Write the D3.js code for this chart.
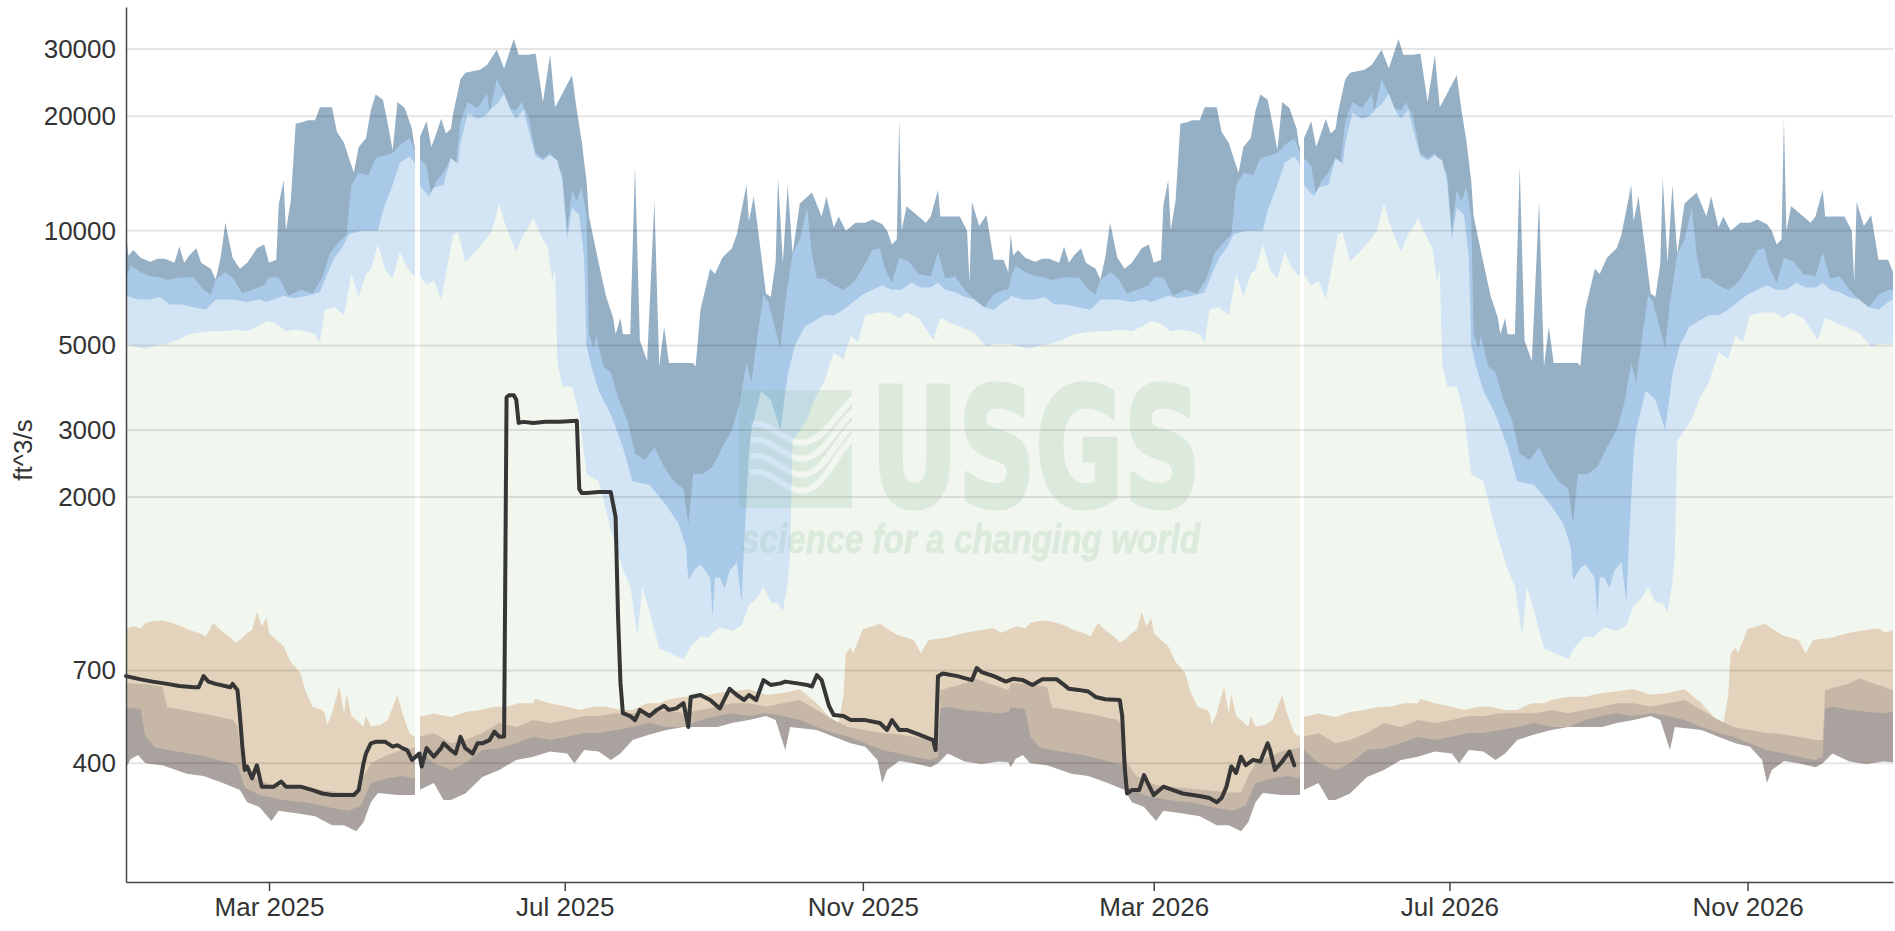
<!DOCTYPE html>
<meta charset="utf-8">
<script src="https://d3js.org/d3.v7.min.js"></script>
<style>
    body { margin: 0; background: #fff; }
    text { font-family: "Liberation Sans", Arial, sans-serif; }
</style>
<div id="vis"></div>
<script>
    // daily flow statistics by day of year, [day (0 = Jan 1), ft^3/s]
    var pMax = [[0,9800],[1,8600],[3,8900],[6,8500],[10,8300],[13,8450],[16,8450],[20,8250],[22,9100],[24,8250],[26,8600],[29,9000],[31,8250],[35,7950],[37,7450],[39,8500],[41,10500],[44,8500],[47,7950],[50,8250],[52,8600],[54,9000],[57,9200],[59,8250],[62,8400],[63,11700],[65,13600],[66,10000],[68,12000],[70,19100],[73,19300],[75,19500],[78,19500],[80,21100],[85,21100],[87,18200],[90,17000],[92,15500],[94,14200],[96,16600],[99,17500],[101,20700],[103,22800],[106,22100],[108,19100],[110,16300],[112,21800],[115,21000],[118,18500],[119,16600],
        [121,17500],[124,19400],[126,16600],[128,18000],[130,19700],[132,18000],[134,18500],[135,20400],[138,25000],[140,26000],[146,26500],[149,27300],[153,29900],[156,26700],[160,31900],[162,29000],[166,29000],[169,29200],[172,21800],[175,29000],[177,21100],[180,22900],[184,25600],[186,20700],[188,17200],[190,13500],[191,10900],[195,8250],[198,6750],[201,5900],[202,5350],[204,5900],[205,5350],[208,5350],[210,14800],[212,5150],[215,4550],[218,12000],[220,4400],[222,5600],[224,4500],[234,4500],[235,4400],[237,6200],[241,7950],[243,7700],[246,8500],[250,9000],[252,9800],[256,13200],[257,10600],[259,12300],[262,8700],[264,6850],[266,6700],[268,8250],[269,13800],[271,8250],[273,13200],[275,8700],[278,11800],[283,12600],[287,10900],[289,12300],[292,10200],[294,10900],[297,10000],[301,10500],[305,10500],[308,10700],[312,10400],[314,10000],[316,9200],[318,9500],[319,19700],[320,10000],[322,11600],[327,10900],[330,10500],[332,10900],[335,12800],[336,10900],[340,10900],[344,10900],[347,10000],[348,7300],[349,11900],[352,10300],[355,11000],[358,8400],[362,8400],[364,7800]];
    var p95 = [[0,7540],[2,8100],[6,7800],[10,7600],[14,7540],[17,7430],[22,7540],[25,7540],[28,7540],[32,7000],[35,6800],[37,7430],[41,7800],[44,7540],[48,6850],[52,7000],[57,7200],[59,7540],[63,7540],[67,6750],[72,7000],[77,6850],[81,7540],[84,8700],[87,9200],[91,9800],[93,13200],[96,14200],[100,14000],[103,15500],[107,15800],[110,16000],[113,16800],[117,17500],[119,16300],
        [121,15500],[124,14800],[126,12300],[128,13500],[131,14200],[134,15500],[136,14800],[138,19400],[141,21800],[145,21000],[149,22900],[150,20500],[153,25000],[156,22900],[158,21000],[161,20700],[163,21800],[166,20000],[169,16000],[172,15500],[175,16000],[178,14800],[180,14200],[182,10000],[184,12800],[186,12000],[188,13000],[190,10900],[191,5350],[193,4900],[194,5300],[197,4400],[200,4250],[203,3650],[207,3150],[210,2600],[214,2500],[218,2700],[222,2400],[226,2200],[230,2100],[232,1700],[234,2300],[238,2300],[242,2400],[246,2700],[250,3000],[253,3500],[256,4500],[258,4000],[260,5000],[263,6800],[265,6500],[268,5500],[270,4900],[272,6500],[275,8700],[278,9500],[281,11500],[283,8700],[285,7500],[288,7500],[292,7200],[296,7000],[300,7300],[304,8000],[308,8900],[311,9000],[313,8000],[316,7300],[319,8500],[323,8300],[327,7700],[332,7600],[335,8800],[338,7500],[342,7600],[346,7000],[350,6600],[354,6300],[358,6800],[362,7000],[364,7000]];
    var p90 = [[0,6750],[5,6600],[10,6600],[14,6700],[18,6400],[23,6400],[28,6300],[33,6200],[37,6600],[44,6600],[50,6500],[55,6600],[58,6500],[65,6750],[69,6650],[75,6750],[80,6900],[83,7700],[86,8500],[89,9000],[92,9800],[97,10000],[101,10000],[104,10000],[106,11300],[110,13200],[113,15100],[117,15700],[119,15100],
        [121,13200],[125,12300],[127,13000],[131,13200],[134,15500],[137,15000],[138,17000],[141,20400],[145,19700],[148,20000],[151,21000],[153,21500],[156,22900],[159,20500],[161,19700],[164,20800],[167,17500],[169,15700],[172,15300],[175,15800],[178,15300],[180,13500],[182,9500],[184,11500],[187,11000],[189,8500],[190,5000],[192,4400],[195,3800],[200,3300],[205,2700],[209,2200],[216,2150],[223,1900],[228,1700],[231,1480],[232,1210],[235,1300],[237,1330],[241,1230],[242,970],[243,1230],[245,1230],[247,1150],[249,1280],[252,1350],[254,1060],[255,1500],[257,2600],[258,3000],[262,3800],[266,3600],[270,3000],[273,4200],[276,5000],[280,5600],[284,5800],[288,6000],[292,6000],[296,6200],[300,6500],[304,6800],[308,7000],[312,7200],[316,7000],[320,7000],[324,7300],[328,7100],[332,7100],[335,7300],[338,7000],[342,6900],[346,6700],[350,6600],[354,6300],[358,6200],[362,6500],[364,6600]];
    var p75 = [[0,5050],[4,4950],[8,4900],[12,5000],[17,5050],[22,5200],[26,5350],[30,5400],[35,5450],[40,5450],[45,5500],[50,5450],[54,5600],[58,5800],[62,5700],[66,5450],[70,5500],[74,5450],[78,5350],[80,5100],[82,6200],[86,6300],[90,6000],[93,7700],[96,6700],[99,7700],[101,7900],[104,9200],[107,7900],[110,7500],[113,8800],[116,8000],[119,7600],
        [121,7700],[124,7200],[127,7400],[130,6600],[132,7700],[135,9800],[137,9900],[140,8300],[144,8800],[148,9400],[151,10000],[154,11800],[156,10600],[158,9800],[161,8800],[164,9800],[166,10200],[168,10800],[171,9800],[174,9000],[176,7300],[177,8000],[178,4500],[180,3900],[184,3900],[187,3300],[190,2300],[195,2200],[200,1640],[205,1290],[208,1170],[211,860],[213,1160],[216,1000],[220,800],[225,775],[230,750],[233,810],[237,860],[240,855],[245,910],[250,890],[254,920],[257,1040],[260,1080],[263,1160],[266,1060],[269,1050],[271,1000],[273,1190],[274,1400],[275,2800],[278,3000],[281,3200],[284,3600],[288,4000],[292,4800],[296,4600],[299,5300],[302,5100],[305,6000],[310,6100],[315,6100],[319,5900],[322,6100],[327,5900],[331,5400],[333,5170],[336,5900],[341,5700],[346,5540],[350,5400],[355,4950],[358,5050],[362,5050],[364,5050]];
    var p25 = [[0,905],[3,915],[6,905],[8,933],[11,943],[15,948],[19,933],[23,915],[26,895],[30,879],[33,862],[36,933],[39,895],[43,855],[45,830],[47,842],[50,879],[52,895],[54,999],[56,915],[58,962],[59,879],[62,842],[65,811],[68,738],[70,714],[72,688],[74,622],[77,563],[79,557],[81,552],[82,541],[83,504],[85,541],[88,635],[90,541],[91,609],[93,532],[95,519],[98,499],[99,532],[101,499],[105,504],[108,519],[112,604],[114,541],[117,480],[119,469],
        [121,529],[127,540],[134,529],[140,545],[146,552],[152,563],[157,563],[162,575],[168,575],[169,590],[175,575],[182,563],[187,552],[193,563],[198,563],[204,552],[209,552],[215,575],[220,575],[223,586],[230,598],[237,598],[244,611],[250,618],[257,625],[264,605],[271,611],[278,625],[285,575],[290,529],[294,510],[296,600],[297,776],[299,805],[300,776],[304,900],[308,915],[311,930],[315,895],[318,870],[325,842],[328,776],[331,842],[339,855],[346,880],[353,895],[358,905],[361,880],[364,895]];
    var p10 = [[0,650],[8,645],[15,635],[17,560],[25,550],[35,535],[44,520],[46,500],[48,400],[52,370],[60,350],[70,345],[80,340],[90,335],[95,335],[98,370],[101,400],[106,415],[112,430],[119,440],
        [121,470],[127,480],[134,451],[140,460],[147,480],[154,510],[161,498],[168,519],[175,510],[182,519],[189,532],[195,532],[202,541],[209,541],[216,541],[223,552],[230,541],[237,552],[244,563],[250,575],[257,575],[264,563],[271,575],[278,586],[285,552],[292,519],[298,498],[305,489],[312,480],[319,476],[325,469],[332,460],[335,460],[336,622],[339,630],[346,648],[350,668],[356,648],[360,635],[364,622]];
    var p05 = [[0,560],[6,555],[8,470],[12,440],[20,430],[30,420],[40,405],[46,395],[49,345],[55,330],[65,320],[75,315],[85,305],[92,300],[97,310],[101,355],[108,365],[114,370],[119,365],
        [121,433],[127,400],[134,384],[140,400],[147,433],[154,438],[161,451],[168,469],[175,460],[182,469],[189,480],[195,480],[202,489],[209,498],[216,510],[223,498],[230,498],[237,519],[244,532],[250,541],[257,532],[264,541],[271,532],[278,519],[285,498],[292,480],[298,469],[305,451],[312,433],[319,424],[325,416],[332,408],[335,416],[336,557],[339,563],[346,552],[353,546],[360,541],[364,545]];
    var pMin = [[0,390],[2,410],[5,420],[8,400],[15,395],[25,375],[32,370],[40,355],[47,340],[50,316],[55,307],[60,282],[63,300],[71,295],[78,290],[85,275],[90,275],[95,265],[98,280],[101,316],[104,334],[112,330],[119,330],
        [121,340],[127,355],[131,320],[134,320],[140,333],[147,368],[154,384],[161,408],[168,416],[175,429],[182,424],[185,400],[189,433],[195,429],[200,408],[204,424],[209,460],[216,476],[223,489],[230,498],[237,498],[244,498],[250,510],[257,519],[264,532],[268,519],[272,433],[274,498],[285,489],[292,469],[299,451],[305,442],[310,408],[312,355],[314,384],[319,405],[325,400],[332,390],[335,400],[339,424],[346,404],[353,398],[360,404],[364,402]];
    var gapDay = 120; // no statistics published for this day

    // observed daily flow, [days since 2025-01-01, ft^3/s]
    var observed = [[0,677],[6,664],[11,655],[17,646],[22,638],[28,633],[30,633],[32,677],[34,655],[37,646],[43,633],[44,646],[46,622],[47,532],[48,442],[49,384],[50,392],[52,365],[54,395],[56,347],[58,347],[61,347],[64,358],[66,347],[72,347],[77,340],[81,333],[85,330],[91,330],[94,330],[96,340],[98,400],[99,424],[101,451],[103,455],[107,455],[110,442],[112,446],[114,438],[116,433],[118,408],[121,424],[122,392],[124,438],[127,416],[130,438],[131,451],[134,433],[136,424],[138,469],[140,438],[143,424],[145,451],[147,451],[150,460],[152,484],[154,469],[156,470],
        [157,3650],[158,3700],[160,3700],[161,3600],[162,3130],[164,3150],[168,3130],[173,3150],[179,3150],[186,3170],[187,2100],[188,2050],[190,2050],[195,2060],[200,2060],[202,1770],[203,970],[204,650],[205,541],[208,532],[210,519],[212,552],[216,532],[219,552],[222,566],[224,552],[227,557],[230,575],[232,498],[233,597],[237,604],[241,586],[245,557],[249,627],[252,604],[255,586],[257,604],[260,586],[263,661],[266,642],[270,648],[272,655],[277,648],[281,642],[283,636],[285,681],[287,661],[290,566],[292,535],[296,532],[299,519],[301,519],[305,519],[311,510],[314,489],[316,519],[319,489],[322,489],[327,476],[333,460],[334,433],
        [335,677],[337,688],[343,677],[349,661],[351,711],[353,694],[358,677],[363,655],[366,666],[370,661],[374,642],[378,664],[384,664],[387,642],[389,627],[393,623],[397,617],[400,597],[404,589],[410,586],[411,532],[412,392],[413,333],[415,340],[418,340],[420,372],[422,350],[424,330],[428,347],[432,340],[436,333],[440,330],[444,327],[447,324],[450,316],[452,324],[454,347],[456,392],[458,377],[460,416],[462,395],[465,408],[468,404],[471,451],[472,433],[474,384],[477,404],[480,429],[482,395]];

    var yTicks = [400, 700, 2000, 3000, 5000, 10000, 20000, 30000];
    var xTicks = ["2025-03-01", "2025-07-01", "2025-11-01", "2026-03-01", "2026-07-01", "2026-11-01"];
    var bandColors = ["#95afc5", "#a8c9e7", "#d3e5f5", "#f1f7ee", "#e3d3bc", "#c7b7a7", "#a9a29e", "#ffffff"];

    // dimensions&&margins
    var W = 1895, H = 931;
    var mgn = { top: 7, rgt: 2, btm: 49, lft: 126 },
        wid = W - mgn.lft - mgn.rgt,
        hgt = H - mgn.top - mgn.btm;

    var root = d3.select("#vis")
        .append("svg")
        .attr("width", W)
        .attr("height", H);
    var defs = root.append("defs");
    var svg = root.append("g")
        .attr("transform", "translate(" + mgn.lft + "," + mgn.top + ")");

    var DAY = 864e5, T0 = Date.UTC(2025, 0, 1);
    function day(n) { return new Date(T0 + n * DAY); }
    var x = d3.scaleUtc()
        .domain([day(0), new Date(Date.UTC(2026, 11, 31))])
        .range([0, wid]);
    var y = d3.scaleLog()
        .domain([195, 38700])
        .range([hgt, 0]);

    // the statistics repeat for each calendar year shown
    function twoYears(arr) {
        var out = [];
        [0, 365].forEach(function (off) {
            arr.forEach(function (d) { out.push({ t: day(d[0] + off), v: d[1] }); });
        });
        return out;
    }

    // cut the missing day out of the bands, on whole pixels
    var cuts = [gapDay, gapDay + 365].map(function (g) {
        return [Math.round(x(day(g - 0.8))), Math.round(x(day(g + 1.2)))];
    });
    var clip = defs.append("clipPath").attr("id", "bandClip");
    [[0, cuts[0][0]], [cuts[0][1], cuts[1][0]], [cuts[1][1], wid]].forEach(function (r) {
        clip.append("rect").attr("x", r[0]).attr("y", 0).attr("width", r[1] - r[0]).attr("height", hgt);
    });

    // bands: each curve filled down to the bottom, highest first
    var area = d3.area()
        .x(function (d) { return x(d.t); })
        .y0(hgt)
        .y1(function (d) { return y(d.v); });

    var bandG = svg.append("g").attr("clip-path", "url(#bandClip)");
    [pMax, p95, p90, p75, p25, p10, p05, pMin].forEach(function (s, i) {
        bandG.append("path")
            .datum(twoYears(s))
            .attr("fill", bandColors[i])
            .attr("d", area);
    });

    // grid
    svg.append("g")
        .selectAll("line")
        .data(yTicks)
        .enter()
        .append("line")
        .attr("x1", 0)
        .attr("x2", wid)
        .attr("y1", function (d) { return y(d); })
        .attr("y2", function (d) { return y(d); })
        .attr("stroke", "rgba(0,0,0,0.1)")
        .attr("stroke-width", 2);

    // watermark
    var wmColor = "rgb(120,175,140)";
    var wm = root.append("g")
        .attr("fill", wmColor)
        .attr("opacity", 0.17);
    var mask = defs.append("mask").attr("id", "logoCut");
    mask.append("rect").attr("x", 739).attr("y", 390).attr("width", 113).attr("height", 118).attr("fill", "#fff");
    [0, 16, 32, 48].forEach(function (o) {
        mask.append("path")
            .attr("d", "M750," + (425 + o) + " C772," + (418 + o) + " 787," + (448 + o) + " 807," + (442 + o) + " S837," + (412 + o * 0.8) + " 854," + (398 + o * 0.8))
            .attr("fill", "none")
            .attr("stroke", "#000")
            .attr("stroke-width", 6);
    });
    wm.append("rect")
        .attr("x", 739).attr("y", 390).attr("width", 113).attr("height", 118)
        .attr("mask", "url(#logoCut)");
    wm.append("text")
        .attr("x", 871).attr("y", 506)
        .attr("textLength", 330)
        .attr("lengthAdjust", "spacingAndGlyphs")
        .attr("stroke", wmColor)
        .attr("stroke-width", 5)
        .attr("stroke-linejoin", "round")
        .style("font-family", "'Liberation Sans Narrow', 'DejaVu Sans Condensed', 'Liberation Sans', sans-serif")
        .style("font-weight", "bold")
        .style("font-size", "164px")
        .text("USGS");
    wm.append("text")
        .attr("x", 741).attr("y", 553)
        .attr("textLength", 459)
        .attr("lengthAdjust", "spacingAndGlyphs")
        .attr("stroke", wmColor)
        .attr("stroke-width", 1)
        .style("font-weight", "bold")
        .style("font-style", "italic")
        .style("font-size", "40px")
        .text("science for a changing world");

    // observed flow
    var line = d3.line()
        .x(function (d) { return x(day(d[0])); })
        .y(function (d) { return y(d[1]); });
    svg.append("path")
        .datum(observed)
        .attr("fill", "none")
        .attr("stroke", "#363636")
        .attr("stroke-width", 4)
        .attr("stroke-linejoin", "round")
        .attr("stroke-linecap", "round")
        .attr("d", line);

    // x&&y axes
    var fmt = d3.utcFormat("%b %Y");
    var xAx = svg.append("g")
        .attr("transform", "translate(0," + hgt + ")")
        .call(d3.axisBottom(x)
            .tickValues(xTicks.map(function (s) { return new Date(s + "T00:00:00Z"); }))
            .tickFormat(fmt)
            .tickSize(9)
            .tickSizeOuter(0)
            .tickPadding(7));
    var yAx = svg.append("g")
        .call(d3.axisLeft(y)
            .tickValues(yTicks)
            .tickFormat(d3.format("d"))
            .tickSize(0)
            .tickPadding(10));
    [xAx, yAx].forEach(function (g) {
        g.select(".domain").attr("stroke", "#444").attr("stroke-width", 1.5);
        g.selectAll(".tick line").attr("stroke", "#444").attr("stroke-width", 1.5);
        g.selectAll("text")
            .attr("fill", "#333")
            .style("font-size", "26px")
            .style("font-family", "'Liberation Sans', Arial, sans-serif");
    });

    // axes label
    svg.append("text")
        .attr("transform", "translate(" + (32 - mgn.lft) + "," + (450 - mgn.top) + ") rotate(-90)")
        .attr("text-anchor", "middle")
        .attr("fill", "#333")
        .style("font-size", "26px")
        .text("ft^3/s");
</script>
